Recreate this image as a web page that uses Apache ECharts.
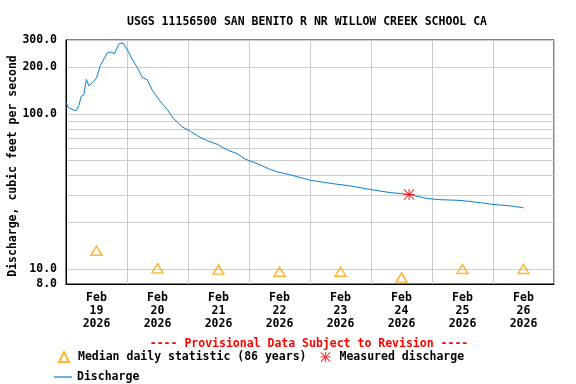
<!DOCTYPE html>
<html>
<head>
<meta charset="utf-8">
<script src="https://cdn.jsdelivr.net/npm/echarts@6/dist/echarts.min.js"></script>
<style>
  html, body { margin: 0; padding: 0; background: #fff; }
  #chart { width: 576px; height: 384px; }
</style>
</head>
<body>
<div id="chart"></div>
<script>
// hours since Feb 19 2026 00:00
const dischargeHours = [0, 1, 3, 4, 5, 6, 7, 8, 9, 9.5, 11, 12, 13.5, 15, 16.5, 18, 19, 20, 21, 22.5, 24, 26, 28, 30, 32, 34, 37, 40, 42, 44, 45.5, 49, 52, 55.5, 59.5, 63.5, 67.5, 70.5, 75.5, 80.5, 83, 88, 96, 104, 112, 119.5, 127.5, 135, 142, 147, 155, 163, 168, 175, 180];
const dischargeValues = [118, 110, 106, 105, 113, 130, 133, 167, 152, 150, 163, 171, 205, 228, 250, 250, 244, 265, 285, 286, 262, 226, 200, 172, 166, 142, 121, 106, 94.5, 88, 83, 77.3, 71.8, 67.3, 63.7, 58.6, 55.3, 51.1, 47.6, 43.8, 42.4, 40.6, 37.4, 35.7, 34.3, 32.6, 31.1, 30.3, 28.5, 28.0, 27.7, 26.8, 26.1, 25.5, 24.8];

const medianHours = [12, 36, 60, 84, 108, 132, 156, 180];
const medianValues = [13.1, 10.1, 9.9, 9.6, 9.6, 8.8, 10.0, 10.0];

const measuredHours = [135];
const measuredValues = [30.2];

const dayLabels = ['Feb\n19\n2026', 'Feb\n20\n2026', 'Feb\n21\n2026', 'Feb\n22\n2026',
                   'Feb\n23\n2026', 'Feb\n24\n2026', 'Feb\n25\n2026', 'Feb\n26\n2026'];
const yGridValues = [8, 10, 20, 30, 40, 50, 60, 70, 80, 90, 100, 200, 300];
const yLabelValues = [8, 10, 100, 200, 300];

const FONT = 'DejaVu Sans Mono';
const starPath = 'path://M9,0L11,0L11,20L9,20Z M0,9L20,9L20,11L0,11Z M1.4,0L20,18.6L18.6,20L0,1.4Z M18.6,0L20,1.4L1.4,20L0,18.6Z';
const legendText = { fontFamily: FONT, fontWeight: 'bold', fontSize: 11.5, color: '#000' };

const chart = echarts.init(document.getElementById('chart'));

const option = {
    animation: false,
    backgroundColor: '#fff',
    textStyle: { fontFamily: FONT, fontWeight: 'bold', color: '#000' },
    title: [{
        text: 'USGS 11156500 SAN BENITO R NR WILLOW CREEK SCHOOL CA',
        left: 302, top: 11, textAlign: 'center',
        textStyle: { fontFamily: FONT, fontWeight: 'bold', fontSize: 11.5, color: '#000' }
    }, {
        text: '---- Provisional Data Subject to Revision ----',
        left: 304, top: 333, textAlign: 'center',
        textStyle: { fontFamily: FONT, fontWeight: 'bold', fontSize: 11.5, color: '#ff0000' }
    }],
    legend: [{
        data: ['Median daily statistic (86 years)', 'Measured discharge'],
        left: 53, top: 346, itemWidth: 10, itemHeight: 10, itemGap: 14,
        textStyle: Object.assign({ padding: [0, 0, 0, 4] }, legendText)
    }, {
        data: [{ name: 'Discharge', icon: 'rect' }],
        left: 49, top: 366, itemWidth: 18, itemHeight: 1.2,
        textStyle: legendText
    }],
    grid: {
        left: 66, right: 22, top: 40, bottom: 100,
        outerBoundsMode: 'none', containLabel: false,
        show: true, borderColor: '#000', borderWidth: 1
    },
    xAxis: [{
        type: 'category',
        data: dayLabels,
        boundaryGap: true,
        axisLine: { lineStyle: { color: '#000' } },
        axisTick: { show: false },
        splitLine: { show: true, lineStyle: { color: '#cccccc', width: 1 } },
        axisLabel: {
            interval: 0, margin: 8, lineHeight: 13,
            fontFamily: FONT, fontWeight: 'bold', fontSize: 11.5, color: '#000'
        }
    }, {
        type: 'value', min: 0, max: 192, show: false
    }],
    yAxis: {
        type: 'log', logBase: 10, min: 8, max: 300,
        name: 'Discharge, cubic feet per second',
        nameLocation: 'middle', nameGap: 47, nameMoveOverlap: false,
        nameTextStyle: { fontFamily: FONT, fontWeight: 'bold', fontSize: 11.5, color: '#000', padding: [0, 8, 0, 0] },
        axisLine: { show: true, lineStyle: { color: '#000' } },
        axisTick: { show: false, customValues: yGridValues },
        splitLine: { show: true, lineStyle: { color: '#cccccc', width: 1 } },
        axisLabel: {
            customValues: yLabelValues, margin: 9,
            fontFamily: FONT, fontWeight: 'bold', fontSize: 11.5, color: '#000',
            formatter: v => Number(v).toFixed(1)
        }
    },
    series: [{
        name: 'Discharge',
        type: 'line',
        xAxisIndex: 1,
        data: dischargeHours.map((h, i) => [h, dischargeValues[i]]),
        symbol: 'none',
        lineStyle: { color: '#0a7fd2', width: 1 },
        itemStyle: { color: '#0a7fd2' },
        z: 3
    }, {
        name: 'Median daily statistic (86 years)',
        type: 'scatter',
        xAxisIndex: 1,
        data: medianHours.map((h, i) => [h, medianValues[i]]),
        symbol: 'triangle',
        symbolSize: [11, 9],
        itemStyle: { color: 'rgba(0,0,0,0)', borderColor: '#ffa500', borderWidth: 1.5 },
        z: 4
    }, {
        name: 'Measured discharge',
        type: 'scatter',
        xAxisIndex: 1,
        data: measuredHours.map((h, i) => [h, measuredValues[i]]),
        symbol: starPath,
        symbolSize: 11,
        itemStyle: { color: '#ff0000' },
        z: 5
    }]
};

chart.setOption(option);
</script>
</body>
</html>
